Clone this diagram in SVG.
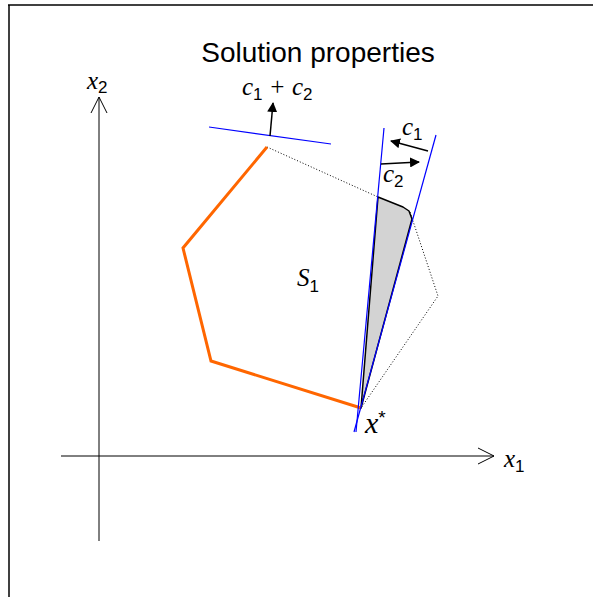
<svg xmlns="http://www.w3.org/2000/svg" width="593" height="597" viewBox="0 0 593 597">
<style>
.ax{stroke:#000;stroke-width:1;fill:none}
.bl{stroke:#0000ff;stroke-width:1.2;fill:none}
.dot{stroke:#000;stroke-width:1;stroke-dasharray:1 2;fill:none}
.it{font-family:"Liberation Serif","Times New Roman",serif;font-style:italic;font-size:25px;fill:#000}
.sb{font-family:"Liberation Sans",sans-serif;font-style:normal;font-size:17px}
.ar{stroke:#000;stroke-width:1.5;fill:none}
</style>
<defs>
<marker id="ah" markerWidth="10" markerHeight="10" refX="9" refY="5" orient="auto" markerUnits="userSpaceOnUse"><path d="M0,0 L10,5 L0,10 Z" fill="#000"/></marker>
</defs>
<rect width="593" height="597" fill="#fff"/>
<g id="frame">
<line x1="8" y1="5" x2="593" y2="5" stroke="#000" stroke-width="1.5"/>
<line x1="9" y1="5" x2="9" y2="597" stroke="#000" stroke-width="1.5"/>
</g>
<text id="title" x="318" y="62" text-anchor="middle" font-family="Liberation Sans, sans-serif" font-size="28">Solution properties</text>
<g id="axes">
<line class="ax" x1="99" y1="541" x2="99" y2="97"/>
<polyline class="ax" points="91,113 99,97 107,113"/>
<line class="ax" x1="61" y1="456" x2="494" y2="456"/>
<polyline class="ax" points="478,448 494,456 478,464"/>
</g>
<g id="feasible">
<polygon points="378,197 403,207 409,211 412,219 361,408" fill="#d3d3d3" stroke="#000" stroke-width="1.5" stroke-linejoin="round"/>
<polyline class="dot" points="267,147 378,197"/>
<polyline class="dot" points="410,212 438,296 361,408" stroke="#555"/>
<polyline points="267,147 183,248 211,361 361,408" fill="none" stroke="#ff6600" stroke-width="3" stroke-linejoin="miter"/>
</g>
<g id="connectors">
<line class="bl" x1="209" y1="127" x2="331" y2="144"/>
<line class="bl" x1="384" y1="128" x2="356" y2="432"/>
<line class="bl" x1="436" y1="135" x2="354" y2="432"/>
<line class="ar" x1="270" y1="136" x2="273" y2="103" marker-end="url(#ah)"/>
<line class="ar" x1="428" y1="151" x2="391" y2="141" marker-end="url(#ah)"/>
<line class="ar" x1="381" y1="164" x2="419" y2="162" marker-end="url(#ah)"/>
</g>
<g id="labels">
<text class="it" x="87" y="89">x<tspan class="sb" dy="4">2</tspan></text>
<text class="it" x="504" y="467">x<tspan class="sb" dy="5">1</tspan></text>
<text class="it" x="242" y="95">c<tspan class="sb" dy="5">1</tspan><tspan dy="-5"> + c</tspan><tspan class="sb" dy="5">2</tspan></text>
<text class="it" x="402" y="135">c<tspan class="sb" dy="5">1</tspan></text>
<text class="it" x="383" y="182">c<tspan class="sb" dy="5">2</tspan></text>
<text class="it" x="297" y="286">S<tspan class="sb" dy="6">1</tspan></text>
<text class="it" x="365" y="433" style="font-size:30px">x<tspan class="sb" style="font-size:19px" dy="-9">*</tspan></text>
</g>
</svg>
